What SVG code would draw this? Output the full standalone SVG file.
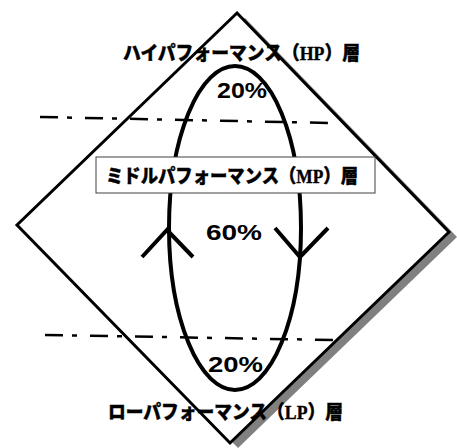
<svg xmlns="http://www.w3.org/2000/svg" width="457" height="448" viewBox="0 0 457 448">
<style>
.jp{font-family:"Noto Sans CJK JP","Liberation Sans",sans-serif;font-weight:900;font-size:19px;fill:#000;stroke:#000;stroke-width:0.4}
.lat{font-family:"Liberation Serif",serif;font-weight:bold}
.pct{font-family:"Liberation Sans",Arial,sans-serif;font-weight:bold;font-size:22px;fill:#000}
.dd{stroke:#000;stroke-width:2.5;fill:none;stroke-dasharray:18 9 5 13}
.arr{stroke:#000;stroke-width:4;fill:none}
</style>
<rect width="457" height="448" fill="#fff"/>
<g id="diamond">
<polygon points="245,18 457,237 238,448 25,230" fill="#808080"/>
<polygon points="237,13 449,232 230,443 17,225" fill="#fff" stroke="#000" stroke-width="3"/>
</g>
<g id="connectors">
<line class="dd" x1="40" y1="117" x2="330" y2="123"/>
<line class="dd" x1="45" y1="335" x2="335" y2="340"/>
<polyline class="arr" points="142,257 167,230 193,257"/>
<polyline class="arr" points="275,228 300,257 328,228"/>
</g>
<g id="ellipse">
<ellipse cx="235" cy="228" rx="66" ry="162" fill="none" stroke="#000" stroke-width="4"/>
</g>
<g id="hp">
<text class="jp" x="123" y="60" textLength="237" lengthAdjust="spacingAndGlyphs">ハイパフォーマンス（<tspan class="lat">HP</tspan>）層</text>
</g>
<g id="mp">
<rect x="96" y="157" width="279" height="36" fill="#fff" stroke="#404040" stroke-width="1"/>
<text class="jp" x="106" y="183" textLength="252" lengthAdjust="spacingAndGlyphs">ミドルパフォーマンス（<tspan class="lat">MP</tspan>）層</text>
</g>
<g id="lp">
<text class="jp" x="108" y="419" textLength="235" lengthAdjust="spacingAndGlyphs">ローパフォーマンス（<tspan class="lat">LP</tspan>）層</text>
</g>
<g id="labels">
<text class="pct" x="217" y="98" textLength="50" lengthAdjust="spacingAndGlyphs">20%</text>
<text class="pct" x="206" y="240" textLength="56" lengthAdjust="spacingAndGlyphs">60%</text>
<text class="pct" x="208" y="372" textLength="55" lengthAdjust="spacingAndGlyphs">20%</text>
</g>
</svg>
